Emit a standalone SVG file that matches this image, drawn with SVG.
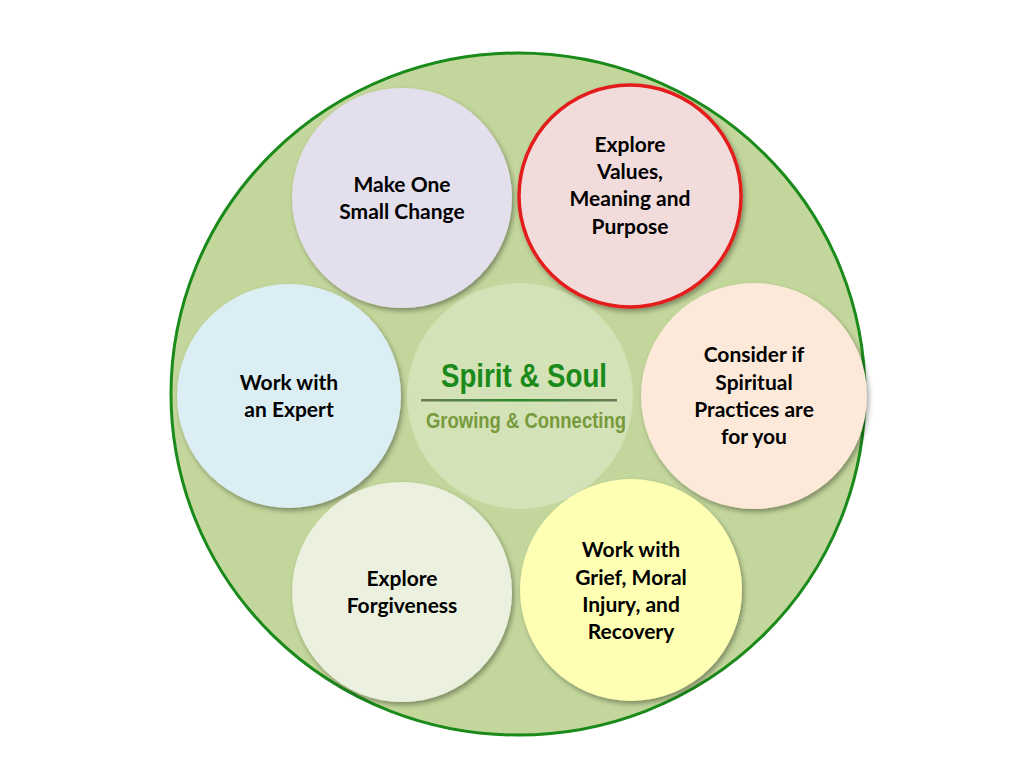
<svg xmlns="http://www.w3.org/2000/svg" width="1024" height="768" viewBox="0 0 1024 768">
<style>
.lbl{font-family:Lato,"Open Sans","Liberation Sans",sans-serif;font-weight:bold;font-size:21px;fill:#000;text-anchor:middle}
.node{filter:url(#sh)}
</style>
<defs>
<filter id="sh" x="-20%" y="-20%" width="140%" height="140%">
<feDropShadow dx="2" dy="3" stdDeviation="2.5" flood-color="#000" flood-opacity="0.35"/>
</filter>
<linearGradient id="lg" x1="0" x2="1" y1="0" y2="0">
<stop offset="0" stop-color="#6b7a5a"/>
<stop offset="0.5" stop-color="#2a8a2a"/>
<stop offset="1" stop-color="#6b7a5a"/>
</linearGradient>
</defs>
<rect width="1024" height="768" fill="#fff"/>
<g id="outer">
<ellipse cx="518" cy="394" rx="347" ry="341" fill="#c3d69b" stroke="#1a8a1a" stroke-width="3"/>
</g>
<g id="connectors"></g>
<g id="center">
<circle cx="520" cy="396" r="113" fill="#d7e4bd" opacity="0.85"/>
<text x="524" y="387" font-family="'Liberation Sans Narrow','Liberation Sans',sans-serif" font-weight="bold" font-size="33" fill="#1a8a1a" text-anchor="middle" textLength="166" lengthAdjust="spacingAndGlyphs">Spirit &amp; Soul</text>
<rect x="421" y="399" width="196" height="2.5" fill="url(#lg)"/>
<text x="526" y="428" font-family="'Liberation Sans Narrow','Liberation Sans',sans-serif" font-weight="bold" font-size="22" fill="#779a3c" text-anchor="middle" textLength="200" lengthAdjust="spacingAndGlyphs">Growing &amp; Connecting</text>
</g>
<g id="make-one">
<circle class="node" cx="402" cy="198" r="110" fill="#e4dfec"/>
<text class="lbl" x="402" y="192">Make One</text>
<text class="lbl" x="402" y="219">Small Change</text>
</g>
<g id="explore-values">
<circle class="node" cx="630" cy="196" r="111" fill="#f2dcdb" stroke="#e31b1b" stroke-width="3.5"/>
<text class="lbl" x="630" y="152">Explore</text>
<text class="lbl" x="630" y="179">Values,</text>
<text class="lbl" x="630" y="206">Meaning and</text>
<text class="lbl" x="630" y="234">Purpose</text>
</g>
<g id="work-expert">
<circle class="node" cx="289" cy="396" r="112" fill="#dbeef4"/>
<text class="lbl" x="289" y="390">Work with</text>
<text class="lbl" x="289" y="417">an Expert</text>
</g>
<g id="consider">
<circle class="node" cx="754" cy="396" r="113" fill="#fde9d9"/>
<text class="lbl" x="754" y="362">Consider if</text>
<text class="lbl" x="754" y="390">Spiritual</text>
<text class="lbl" x="754" y="417">Practices are</text>
<text class="lbl" x="754" y="444">for you</text>
</g>
<g id="forgiveness">
<circle class="node" cx="402" cy="592" r="110" fill="#ebf1de"/>
<text class="lbl" x="402" y="586">Explore</text>
<text class="lbl" x="402" y="613">Forgiveness</text>
</g>
<g id="grief">
<circle class="node" cx="631" cy="590" r="111" fill="#ffffb3"/>
<text class="lbl" x="631" y="557">Work with</text>
<text class="lbl" x="631" y="585">Grief, Moral</text>
<text class="lbl" x="631" y="612">Injury, and</text>
<text class="lbl" x="631" y="639">Recovery</text>
</g>
</svg>
